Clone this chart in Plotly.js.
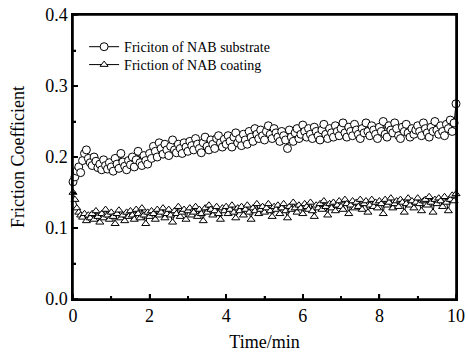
<!DOCTYPE html>
<html>
<head>
<meta charset="utf-8">
<script src="https://cdn.plot.ly/plotly-3.0.1.min.js"></script>
<style>html,body{margin:0;padding:0;background:#fff;}#chart{width:468px;height:356px;}</style>
</head>
<body>
<div id="chart"></div>
<script>
const timeStep = 0.05; // min between samples
const substrateName = "Friciton of NAB substrate";
const coatingName = "Friction of NAB coating";
const substrateValues = [
  0.165,0.172,0.180,0.186,0.178,0.195,0.205,0.210,0.198,0.192,
  0.188,0.200,0.194,0.185,0.190,0.182,0.196,0.188,0.183,0.192,
  0.186,0.180,0.198,0.190,0.184,0.205,0.193,0.187,0.182,0.195,
  0.189,0.200,0.186,0.196,0.208,0.192,0.188,0.202,0.195,0.190,
  0.205,0.198,0.215,0.208,0.200,0.220,0.212,0.204,0.218,0.210,
  0.202,0.215,0.224,0.210,0.206,0.218,0.212,0.205,0.220,0.214,
  0.208,0.222,0.216,0.210,0.226,0.218,0.212,0.206,0.220,0.228,
  0.215,0.210,0.224,0.218,0.212,0.226,0.230,0.220,0.214,0.225,
  0.218,0.230,0.222,0.214,0.228,0.234,0.220,0.226,0.216,0.232,
  0.224,0.218,0.236,0.228,0.222,0.240,0.232,0.226,0.238,0.230,
  0.224,0.236,0.244,0.232,0.226,0.240,0.234,0.228,0.222,0.236,
  0.230,0.224,0.212,0.238,0.228,0.222,0.234,0.240,0.226,0.232,
  0.245,0.236,0.228,0.240,0.232,0.226,0.242,0.236,0.230,0.224,
  0.238,0.246,0.232,0.226,0.240,0.234,0.228,0.244,0.236,0.230,
  0.240,0.248,0.234,0.228,0.242,0.236,0.230,0.246,0.238,0.232,
  0.226,0.240,0.234,0.248,0.236,0.230,0.244,0.238,0.232,0.226,
  0.242,0.236,0.250,0.232,0.228,0.244,0.238,0.234,0.248,0.240,
  0.230,0.226,0.242,0.236,0.246,0.234,0.228,0.240,0.232,0.238,
  0.244,0.236,0.230,0.248,0.240,0.234,0.228,0.242,0.236,0.250,
  0.238,0.232,0.244,0.236,0.230,0.246,0.240,0.252,0.236,0.248,
  0.275
];
const coatingValues = [
  0.150,0.140,0.128,0.122,0.118,0.115,0.120,0.110,0.118,0.114,
  0.120,0.112,0.124,0.116,0.108,0.120,0.114,0.126,0.118,0.112,
  0.122,0.116,0.106,0.120,0.125,0.114,0.118,0.110,0.122,0.116,
  0.124,0.118,0.112,0.126,0.120,0.114,0.128,0.118,0.106,0.122,
  0.116,0.124,0.120,0.112,0.126,0.118,0.122,0.128,0.114,0.120,
  0.126,0.118,0.108,0.124,0.120,0.130,0.116,0.122,0.126,0.112,
  0.124,0.128,0.118,0.122,0.130,0.116,0.126,0.120,0.110,0.128,
  0.122,0.132,0.126,0.118,0.124,0.130,0.120,0.112,0.128,0.124,
  0.130,0.120,0.126,0.132,0.122,0.114,0.128,0.124,0.130,0.118,
  0.126,0.132,0.122,0.112,0.128,0.124,0.134,0.120,0.126,0.130,
  0.122,0.128,0.134,0.124,0.116,0.130,0.126,0.132,0.120,0.128,
  0.134,0.124,0.114,0.130,0.126,0.136,0.128,0.122,0.132,0.128,
  0.120,0.134,0.130,0.126,0.136,0.124,0.116,0.132,0.128,0.134,
  0.126,0.138,0.130,0.118,0.134,0.128,0.136,0.124,0.132,0.138,
  0.130,0.126,0.140,0.134,0.120,0.132,0.138,0.128,0.136,0.130,
  0.140,0.126,0.134,0.138,0.122,0.132,0.140,0.130,0.136,0.128,
  0.138,0.134,0.120,0.140,0.132,0.136,0.142,0.128,0.134,0.138,
  0.130,0.140,0.136,0.122,0.134,0.142,0.132,0.138,0.128,0.136,
  0.142,0.134,0.124,0.138,0.140,0.132,0.144,0.136,0.122,0.140,
  0.134,0.142,0.138,0.130,0.144,0.136,0.124,0.140,0.146,0.138,
  0.148
];
const xRange = [0, 10];
const yRange = [0, 0.4];
const xTicks = [0, 2, 4, 6, 8, 10];
const xMinorTicks = [1, 3, 5, 7, 9];
const yTicks = [0.0, 0.1, 0.2, 0.3, 0.4];
const yMinorTicks = [0.05, 0.15, 0.25, 0.35];
const yTickLabels = ["0.0", "0.1", "0.2", "0.3", "0.4"];

const timeSubstrate = substrateValues.map((_, i) => +(i * timeStep).toFixed(2));
const timeCoating = coatingValues.map((_, i) => +(i * timeStep).toFixed(2));

const font = '"Liberation Serif", serif';
const black = "#000000";

// Frame edges and inside ticks as thin filled rectangles (pixel-sized, anchored to axis values)
const shapes = [];
const half = 0.8;
function vBar(xv, yref, y0, y1, pixelY, yanchor) {
  const s = {type: "rect", layer: "above", xref: "x", xsizemode: "pixel", xanchor: xv, x0: -half, x1: half,
    yref: yref, y0: y0, y1: y1, fillcolor: black, line: {width: 0}};
  if (pixelY) { s.ysizemode = "pixel"; s.yanchor = yanchor; }
  shapes.push(s);
}
function hBar(yv, xref, x0, x1, pixelX, xanchor) {
  const s = {type: "rect", layer: "above", yref: "y", ysizemode: "pixel", yanchor: yv, y0: -half, y1: half,
    xref: xref, x0: x0, x1: x1, fillcolor: black, line: {width: 0}};
  if (pixelX) { s.xsizemode = "pixel"; s.xanchor = xanchor; }
  shapes.push(s);
}
vBar(xRange[0], "paper", -0.003, 1.003, false);
vBar(xRange[1], "paper", -0.003, 1.003, false);
hBar(yRange[0], "paper", 0, 1, false);
hBar(yRange[1], "paper", 0, 1, false);
xTicks.forEach(v => vBar(v, "y", 0, 5, true, yRange[0]));
xMinorTicks.forEach(v => vBar(v, "y", 0, 3, true, yRange[0]));
yTicks.forEach(v => hBar(v, "x", 0, 5, true, xRange[0]));
yMinorTicks.forEach(v => hBar(v, "x", 0, 3, true, xRange[0]));

const traces = [
  {
    x: timeSubstrate, y: substrateValues, name: substrateName,
    type: "scatter", mode: "lines+markers", legend: "legend",
    line: {color: black, width: 1}, cliponaxis: false,
    marker: {symbol: "circle", size: 8, color: "#ffffff", line: {color: black, width: 1}}
  },
  {
    x: timeCoating, y: coatingValues, name: coatingName,
    type: "scatter", mode: "lines+markers", legend: "legend2",
    line: {color: black, width: 1}, cliponaxis: false,
    marker: {symbol: "triangle-up", size: 7, color: "#ffffff", line: {color: black, width: 1}}
  }
];
function axis(extra) {
  return Object.assign({
    showgrid: false, zeroline: false, showline: true, linecolor: black, linewidth: 1.5,
    mirror: true, ticks: "inside", ticklen: 5, tickwidth: 1.5, tickcolor: black, fixedrange: true,
    tickfont: {family: font, size: 18, color: black}
  }, extra);
}
const legendBase = {
  x: 0.029, xanchor: "left", yanchor: "middle",
  bgcolor: "rgba(0,0,0,0)", borderwidth: 0,
  font: {family: font, size: 14, color: black},
  itemwidth: 30
};
const layout = {
  width: 468, height: 356,
  margin: {l: 73, r: 12, t: 15, b: 57},
  paper_bgcolor: "#ffffff", plot_bgcolor: "#ffffff",
  font: {family: font, color: black},
  showlegend: true,
  shapes: shapes,
  legend: Object.assign({}, legendBase, {y: 0.887}),
  legend2: Object.assign({}, legendBase, {y: 0.824}),
  xaxis: axis({
    range: xRange, tickmode: "array", tickvals: xTicks, ticktext: xTicks.map(String),
    minor: {tickmode: "array", tickvals: xMinorTicks, ticks: "inside", ticklen: 3, tickcolor: black, tickwidth: 1.5},
    title: {text: "Time/min", font: {family: font, size: 18, color: black}, standoff: 10}
  }),
  yaxis: axis({
    range: yRange, tickmode: "array", tickvals: yTicks, ticktext: yTickLabels,
    minor: {tickmode: "array", tickvals: yMinorTicks, ticks: "inside", ticklen: 3, tickcolor: black, tickwidth: 1.5},
    title: {text: "Friction Coefficient", font: {family: font, size: 18, color: black}, standoff: 16}
  })
};
Plotly.newPlot("chart", traces, layout, {displayModeBar: false});
</script>
</body>
</html>
